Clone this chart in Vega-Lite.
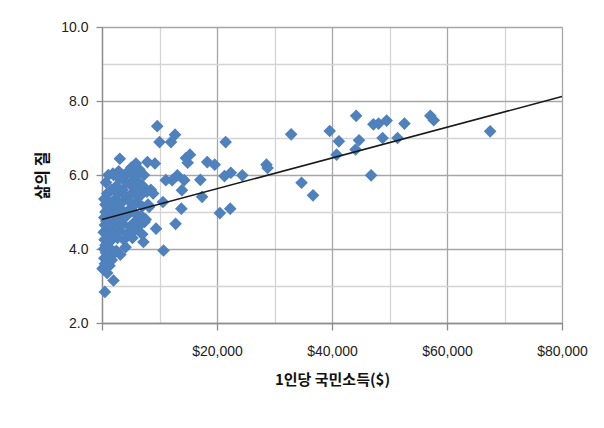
{
  "$schema": "https://vega.github.io/schema/vega-lite/v6.json",
  "width": 460,
  "height": 296,
  "autosize": "none",
  "padding": {"left": 102, "top": 27, "right": 42, "bottom": 105},
  "background": "white",
  "config": {
    "view": {"stroke": null},
    "font": "Liberation Sans"
  },
  "datasets": {
    "countries": [
      {"income": 67500, "quality": 7.18},
      {"income": 57100, "quality": 7.6},
      {"income": 57700, "quality": 7.48},
      {"income": 52600, "quality": 7.39},
      {"income": 51400, "quality": 7.0},
      {"income": 49500, "quality": 7.47},
      {"income": 48800, "quality": 7.0},
      {"income": 48100, "quality": 7.39},
      {"income": 47200, "quality": 7.37},
      {"income": 46800, "quality": 5.99},
      {"income": 44200, "quality": 7.6},
      {"income": 44700, "quality": 6.94},
      {"income": 44100, "quality": 6.69},
      {"income": 41200, "quality": 6.91},
      {"income": 40800, "quality": 6.55},
      {"income": 39600, "quality": 7.19},
      {"income": 32900, "quality": 7.1},
      {"income": 34700, "quality": 5.79},
      {"income": 36700, "quality": 5.45},
      {"income": 28600, "quality": 6.28},
      {"income": 28800, "quality": 6.19},
      {"income": 24400, "quality": 5.99},
      {"income": 22400, "quality": 6.06},
      {"income": 21300, "quality": 5.97},
      {"income": 21500, "quality": 6.89},
      {"income": 22300, "quality": 5.09},
      {"income": 20500, "quality": 4.97},
      {"income": 19600, "quality": 6.28},
      {"income": 18300, "quality": 6.35},
      {"income": 17400, "quality": 5.41},
      {"income": 17100, "quality": 5.87},
      {"income": 15300, "quality": 6.55},
      {"income": 14600, "quality": 6.46},
      {"income": 14900, "quality": 6.33},
      {"income": 14300, "quality": 5.86},
      {"income": 13900, "quality": 5.59},
      {"income": 13800, "quality": 5.09},
      {"income": 13100, "quality": 5.99},
      {"income": 12200, "quality": 5.86},
      {"income": 12700, "quality": 7.09},
      {"income": 12000, "quality": 6.89},
      {"income": 12800, "quality": 4.68},
      {"income": 10700, "quality": 3.96},
      {"income": 9600, "quality": 7.32},
      {"income": 10000, "quality": 6.89},
      {"income": 11100, "quality": 5.86},
      {"income": 10600, "quality": 5.27},
      {"income": 9400, "quality": 4.55},
      {"income": 9200, "quality": 6.31},
      {"income": 7900, "quality": 6.35},
      {"income": 8900, "quality": 5.5},
      {"income": 7200, "quality": 4.19},
      {"income": 8200, "quality": 5.14},
      {"income": 7400, "quality": 4.73},
      {"income": 5900, "quality": 6.31},
      {"income": 3100, "quality": 6.44},
      {"income": 1900, "quality": 6.04},
      {"income": 3200, "quality": 3.85},
      {"income": 2000, "quality": 3.15},
      {"income": 500, "quality": 2.84},
      {"income": 100, "quality": 3.47},
      {"income": 300, "quality": 3.45},
      {"income": 500, "quality": 3.6},
      {"income": 400, "quality": 3.75},
      {"income": 700, "quality": 3.9},
      {"income": 350, "quality": 4.0},
      {"income": 600, "quality": 4.1},
      {"income": 900, "quality": 4.15},
      {"income": 450, "quality": 4.25},
      {"income": 800, "quality": 4.3},
      {"income": 1100, "quality": 4.35},
      {"income": 300, "quality": 4.45},
      {"income": 650, "quality": 4.5},
      {"income": 1000, "quality": 4.55},
      {"income": 500, "quality": 4.65},
      {"income": 1200, "quality": 4.7},
      {"income": 750, "quality": 4.75},
      {"income": 400, "quality": 4.85},
      {"income": 1000, "quality": 4.9},
      {"income": 600, "quality": 5.0},
      {"income": 600, "quality": 5.2},
      {"income": 900, "quality": 5.5},
      {"income": 700, "quality": 5.8},
      {"income": 1100, "quality": 6.0},
      {"income": 400, "quality": 5.35},
      {"income": 1300, "quality": 3.55},
      {"income": 1100, "quality": 3.8},
      {"income": 900, "quality": 3.35},
      {"income": 1500, "quality": 4.0},
      {"income": 1400, "quality": 4.2},
      {"income": 1600, "quality": 4.45},
      {"income": 1300, "quality": 4.6},
      {"income": 1700, "quality": 4.8},
      {"income": 1500, "quality": 5.05},
      {"income": 2000, "quality": 5.2},
      {"income": 1800, "quality": 4.95},
      {"income": 2200, "quality": 4.4},
      {"income": 2100, "quality": 4.65},
      {"income": 2400, "quality": 4.9},
      {"income": 2600, "quality": 5.1},
      {"income": 2300, "quality": 5.35},
      {"income": 2800, "quality": 5.5},
      {"income": 2500, "quality": 5.7},
      {"income": 3000, "quality": 5.9},
      {"income": 2700, "quality": 4.3},
      {"income": 3200, "quality": 4.5},
      {"income": 3500, "quality": 4.7},
      {"income": 3000, "quality": 4.85},
      {"income": 3800, "quality": 5.0},
      {"income": 3400, "quality": 5.25},
      {"income": 4000, "quality": 5.45},
      {"income": 3600, "quality": 5.6},
      {"income": 4200, "quality": 5.8},
      {"income": 3900, "quality": 6.0},
      {"income": 2000, "quality": 6.0},
      {"income": 1600, "quality": 5.6},
      {"income": 1200, "quality": 5.3},
      {"income": 2900, "quality": 6.1},
      {"income": 4500, "quality": 4.4},
      {"income": 4800, "quality": 4.6},
      {"income": 4300, "quality": 4.9},
      {"income": 5000, "quality": 5.1},
      {"income": 4700, "quality": 5.3},
      {"income": 5200, "quality": 5.5},
      {"income": 4900, "quality": 5.75},
      {"income": 5400, "quality": 5.95},
      {"income": 5100, "quality": 6.2},
      {"income": 5600, "quality": 4.5},
      {"income": 5800, "quality": 4.75},
      {"income": 5500, "quality": 5.0},
      {"income": 6000, "quality": 5.25},
      {"income": 6300, "quality": 5.4},
      {"income": 5900, "quality": 5.6},
      {"income": 6400, "quality": 5.8},
      {"income": 6100, "quality": 6.05},
      {"income": 6600, "quality": 4.65},
      {"income": 6800, "quality": 4.9},
      {"income": 7000, "quality": 5.15},
      {"income": 6700, "quality": 5.45},
      {"income": 7100, "quality": 5.7},
      {"income": 7300, "quality": 6.0},
      {"income": 3800, "quality": 4.25},
      {"income": 4100, "quality": 4.05},
      {"income": 2500, "quality": 3.95},
      {"income": 1700, "quality": 3.7},
      {"income": 2200, "quality": 3.9},
      {"income": 5300, "quality": 4.3},
      {"income": 7600, "quality": 4.8},
      {"income": 8000, "quality": 5.2},
      {"income": 7800, "quality": 5.55},
      {"income": 8500, "quality": 5.6},
      {"income": 4600, "quality": 6.1},
      {"income": 3300, "quality": 5.95},
      {"income": 6500, "quality": 6.15},
      {"income": 7000, "quality": 4.4}
    ],
    "trend": [
      {"income": 0, "quality": 4.8},
      {"income": 80000, "quality": 8.12}
    ]
  },
  "encoding": {
    "x": {
      "field": "income",
      "type": "quantitative",
      "scale": {"domain": [0, 80000], "nice": false, "zero": false},
      "axis": {
        "title": "1인당 국민소득($)",
        "titleFont": "Noto Sans CJK KR",
        "titleFontSize": 15,
        "titleFontWeight": "bold",
        "titleColor": "#111",
        "titlePadding": 14,
        "values": [0, 10000, 20000, 30000, 40000, 50000, 60000, 70000, 80000],
        "labelExpr": "datum.value > 0 && datum.value % 20000 === 0 ? '$' + format(datum.value, ',') : ''",
        "labelFont": "Liberation Sans",
        "labelFontSize": 14,
        "labelColor": "#222",
        "labelPadding": 14,
        "labelFlush": false,
        "labelOverlap": false,
        "grid": true,
        "gridColor": {"condition": {"test": "datum.value % 20000 === 0", "value": "#a6a6a6"}, "value": "#d4d4d4"},
        "gridWidth": 1.3,
        "domainColor": "#8c8c8c",
        "domainWidth": 1.3,
        "tickColor": "#8c8c8c",
        "tickOpacity": {"condition": {"test": "datum.value % 20000 === 0", "value": 1}, "value": 0},
        "tickSize": 7,
        "tickWidth": 1.3
      }
    },
    "y": {
      "field": "quality",
      "type": "quantitative",
      "scale": {"domain": [2, 10], "nice": false, "zero": false},
      "axis": {
        "title": "삶의 질",
        "titleFont": "Noto Sans CJK KR",
        "titleFontSize": 16,
        "titleFontWeight": "bold",
        "titleColor": "#111",
        "titlePadding": 10,
        "values": [2, 3, 4, 5, 6, 7, 8, 9, 10],
        "labelExpr": "datum.value % 2 === 0 ? format(datum.value, '.1f') : ''",
        "labelFont": "Liberation Sans",
        "labelFontSize": 14,
        "labelColor": "#222",
        "labelPadding": 8,
        "labelFlush": false,
        "labelOverlap": false,
        "grid": true,
        "gridColor": {"condition": {"test": "datum.value % 2 === 0", "value": "#a6a6a6"}, "value": "#d4d4d4"},
        "gridWidth": 1.3,
        "domainColor": "#8c8c8c",
        "domainWidth": 1.3,
        "tickColor": "#8c8c8c",
        "tickOpacity": {"condition": {"test": "datum.value % 2 === 0", "value": 1}, "value": 0},
        "tickSize": 6,
        "tickWidth": 1.3
      }
    }
  },
  "layer": [
    {
      "data": {"name": "countries"},
      "mark": {"type": "point", "shape": "diamond", "filled": true, "color": "#4F81BD", "opacity": 1, "size": 160}
    },
    {
      "data": {"name": "trend"},
      "mark": {"type": "line", "color": "#1a1a1a", "strokeWidth": 1.6}
    }
  ]
}
